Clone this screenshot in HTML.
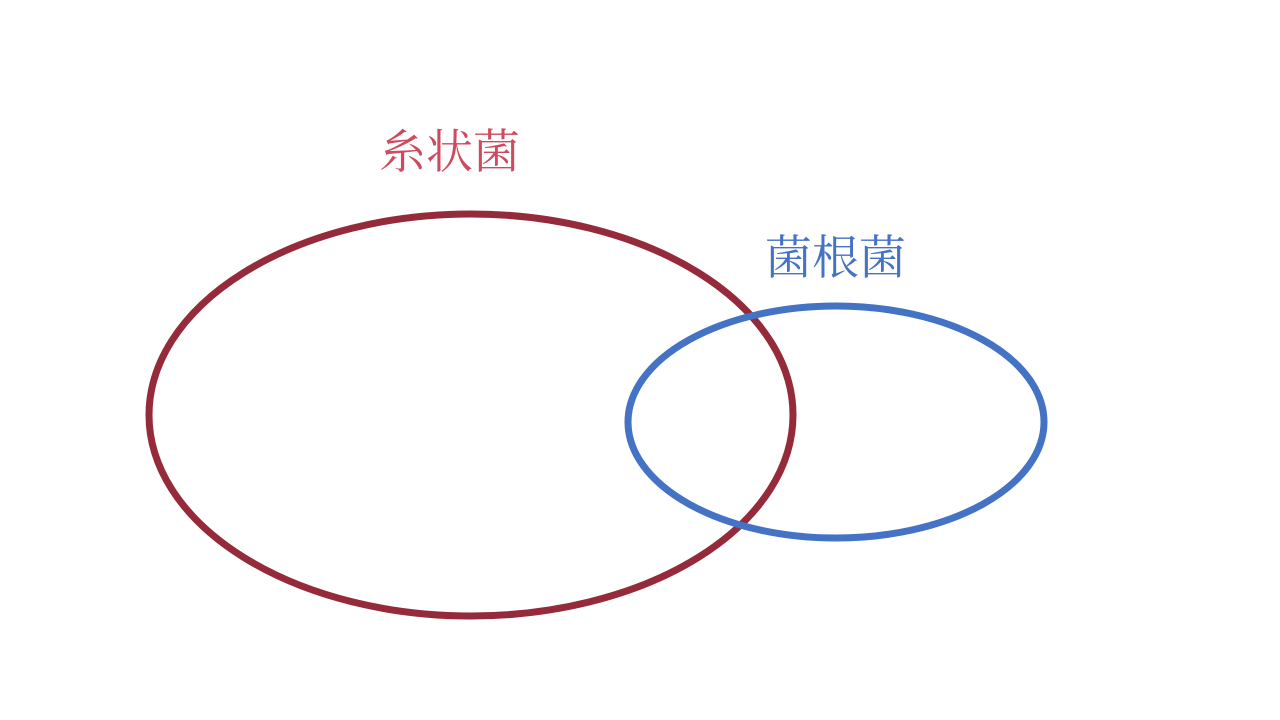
<!DOCTYPE html>
<html><head><meta charset="utf-8"><style>
html,body{margin:0;padding:0;background:#fff;}
body{width:1280px;height:720px;position:relative;overflow:hidden;}
.t{position:absolute;font-family:"Liberation Serif","Noto Serif CJK SC","Noto Serif CJK JP",serif;font-size:47px;line-height:1;white-space:nowrap;}
</style></head><body>
<svg width="1280" height="720" style="position:absolute;left:0;top:0">
<ellipse cx="471" cy="415" rx="322" ry="201" fill="none" stroke="#952a3b" stroke-width="7"/>
<ellipse cx="836" cy="422" rx="208" ry="116" fill="none" stroke="#4472c4" stroke-width="7"/>
</svg>
<div class="t" style="left:379px;top:130px;color:#cf4a5e">糸状菌</div>
<div class="t" style="left:765px;top:236px;color:#4472c4">菌根菌</div>
</body></html>
